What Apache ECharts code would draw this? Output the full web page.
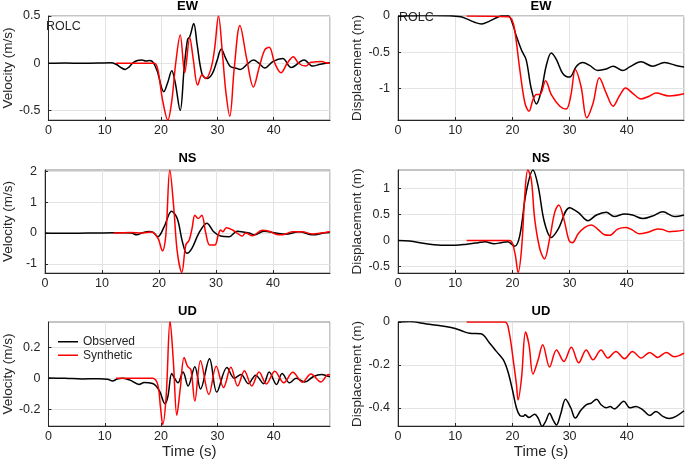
<!DOCTYPE html>
<html>
<head>
<meta charset="utf-8">
<script src="https://cdn.jsdelivr.net/npm/echarts@6/dist/echarts.min.js"></script>
<style>html,body{margin:0;padding:0;background:#fff}#c{width:685px;height:464px}</style>
</head>
<body>
<div id="c"></div>
<script>
// ---------- DATA ----------
const seriesNames = ['Observed', 'Synthetic'];
const panelTitles = ['EW', 'EW', 'NS', 'NS', 'UD', 'UD'];
const stationName = 'ROLC';

// EW velocity (m/s)
const ewVelObsT = [0,3,6,9,11,12,13,13.6,14.3,15,15.8,16.6,17.3,18,18.6,19.3,20.5,21.2,21.9,22.5,23.4,24.1,24.7,25.1,25.8,26.4,27.3,28.2,29.1,29.9,30.7,31.5,32.3,33.2,34.1,35.3,36.4,37.4,38.4,39.9,41.6,43.1,45.4,46.9,48.3,50];
const ewVelObsV = [0,0.003,0,0.002,0.005,-0.01,-0.05,-0.065,-0.04,0.005,0.03,0.035,0.025,0.03,0.01,-0.08,-0.30,-0.2,-0.08,-0.2,-0.50,-0.05,0.25,0.28,0.42,0.2,-0.12,-0.16,-0.11,0.02,0.15,0.05,-0.035,-0.05,-0.065,-0.01,0.035,0,-0.05,0.02,0.05,-0.045,0.035,-0.03,-0.01,0.005];
const ewVelSynT = [12,18.8,19.4,20.3,21.2,21.9,22.6,23.4,24.2,25.1,25.7,26.5,27.3,27.9,28.8,29.5,30.2,30.9,31.5,32.2,33.0,34.0,35.2,36.4,37.4,38.4,39.2,40.2,41.3,42.4,43.5,44.4,45.7,46.6,47.5,48.5,49.3,50];
const ewVelSynV = [0,0,-0.06,-0.4,-0.60,-0.4,0,0.30,-0.10,0.27,0.05,-0.23,-0.12,-0.16,-0.07,0.15,0.50,0.1,-0.3,-0.56,-0.05,0.40,0.05,-0.25,-0.05,0.14,0.17,0,-0.10,0,0.07,0,-0.03,0.01,0.015,0.02,0.005,0];
const ewVelTicks = [-0.5, 0, 0.5];

// EW displacement (m)
const ewDisObsT = [0,3,6,9,11,12,13.5,14.6,16,17.3,18.5,19.3,20,20.7,21.6,22.4,23.3,24.2,25.1,25.9,26.8,27.7,28.8,30,31.2,32.3,33.5,34.9,36.4,37.6,39.3,40.5,42.5,44.5,46.6,48.6,50];
const ewDisObsV = [0,0.005,0.008,0.005,-0.01,-0.04,-0.09,-0.11,-0.07,-0.02,0.01,0.005,-0.1,-0.28,-0.47,-0.6,-1.0,-1.21,-1.01,-0.69,-0.51,-0.60,-0.79,-0.84,-0.69,-0.64,-0.68,-0.75,-0.73,-0.69,-0.75,-0.70,-0.63,-0.69,-0.64,-0.68,-0.70];
const ewDisSynT = [12,19.3,19.9,20.4,21.3,22.2,22.9,23.6,24.2,24.8,25.8,26.8,28.3,29.4,30.2,31.0,32.0,33.0,34.1,35.2,36.4,37.6,38.7,39.8,41.0,42.5,44.0,45.1,47.4,50];
const ewDisSynV = [0,-0.01,-0.05,-0.19,-0.74,-1.2,-1.31,-1.15,-1.08,-1.08,-0.89,-1.08,-1.24,-1.28,-1.1,-0.74,-0.97,-1.40,-1.2,-0.85,-1.06,-1.24,-1.10,-0.99,-1.06,-1.14,-1.10,-1.06,-1.10,-1.07];
const ewDisTicks = [-1, -0.5, 0];

// NS velocity (m/s)
const nsVelObsT = [0,3,6,9,12,14,15.2,16.1,17,18.2,19,19.8,20.9,22.2,23.2,24.1,24.9,25.8,27,28.4,29.6,30.8,32.3,33.7,35.8,36.7,38.4,40.5,42.2,44.6,46.9,49.2,50];
const nsVelObsV = [0,-0.01,-0.005,0,0.01,0.01,0,-0.06,0,0.05,0.02,-0.12,0.2,0.71,0.47,-0.28,-0.66,-0.49,0,0.32,0.04,-0.1,-0.12,0.06,0,-0.06,0.06,0,-0.04,0.04,-0.06,0.01,0.02];
const nsVelSynT = [12,15,17,18.5,19.1,19.9,20.6,21.2,21.9,22.6,23.2,24.0,24.7,25.3,25.8,26.3,26.9,27.5,28.2,28.9,29.8,30.4,30.8,31.2,31.8,32.9,33.7,34.6,35.2,36.4,38.1,39.3,40.5,41.6,43.4,45.1,46.9,49.2,50];
const nsVelSynV = [0,0.02,0,0.03,0,-0.2,-0.58,-0.06,2.05,0.8,-0.6,-1.28,-0.39,-0.23,0.15,0.58,0.47,0.58,0,-0.39,-0.39,-0.06,0.1,0.04,0.17,0.1,0,-0.1,0,-0.09,0.09,0.06,-0.04,-0.06,0.04,0.04,-0.03,0.02,0.04];
const nsVelTicks = [-1, 0, 1, 2];

// NS displacement (m)
const nsDisObsT = [0,2,5,8,10,12,14,15.2,16.8,18,19.2,20.4,21.3,22.4,23.6,24.5,25.6,26.8,28,30,31.5,33.2,34.7,36.4,37.8,39.6,41,42.8,44.5,46.3,48.3,50];
const nsDisObsV = [0,-0.01,-0.06,-0.09,-0.09,-0.07,-0.04,-0.02,-0.06,-0.04,-0.02,-0.11,0.1,0.92,1.35,1.04,0.35,0.06,0.22,0.63,0.54,0.38,0.49,0.54,0.46,0.51,0.49,0.42,0.47,0.55,0.46,0.49];
const nsDisSynT = [12,19.5,20.4,21.0,21.6,22.2,22.7,23.3,23.9,24.8,25.6,26.5,27.4,28.1,29.0,29.9,30.5,31.5,32.6,33.8,34.9,36.1,37.0,38.4,39.9,41.0,42.2,43.7,45.4,46.3,47.4,48.6,50];
const nsDisSynV = [0,0,-0.22,-0.61,-0.16,0.92,1.35,1.17,0.41,-0.16,-0.35,0.03,0.54,0.68,0.41,0,-0.04,0.13,0.25,0.30,0.22,0.11,0.1,0.22,0.25,0.2,0.13,0.16,0.22,0.21,0.17,0.18,0.2];
const nsDisTicks = [-0.5, 0, 0.5, 1];

// UD velocity (m/s)
const udVelObsT = [0,3,6,9,10.5,11.4,12.2,13.2,14.5,16.1,17,17.8,18.8,19.7,20.7,21.2,21.9,22.4,23.0,23.9,24.8,26.0,27.0,28.6,29.9,31.7,33.0,34.2,35.5,36.8,38.2,39.2,40.5,41.5,42.8,44.0,45.5,47.0,48.5,49.5,50];
const udVelObsV = [0.002,0,-0.005,-0.003,-0.006,-0.018,-0.005,0,-0.012,-0.04,-0.028,-0.03,-0.04,-0.08,-0.165,-0.12,0.03,0,-0.03,0.04,-0.05,0.075,-0.07,0.127,-0.09,0.07,0,0.025,-0.035,0.02,-0.035,0.04,-0.04,0.03,-0.03,0,-0.025,0.01,0.025,0.015,0.01];
const udVelSynT = [12,18.5,19.4,19.9,20.3,20.9,21.6,22.2,22.8,23.4,24.1,24.7,25.3,26.0,27.0,28.5,29.8,31.1,32.4,33.6,34.8,36.1,37.4,38.7,40.2,41.8,43.4,45.1,46.6,48.4,49.7,50];
const udVelSynV = [0,0,-0.04,-0.19,-0.30,-0.12,0.37,0.1,-0.24,-0.07,0.135,0.077,0.056,-0.148,0.114,-0.105,0.077,-0.06,0.071,-0.05,0.049,-0.05,0.041,-0.037,0.045,-0.03,0.039,-0.026,0.028,-0.024,0.024,0.02];
const udVelTicks = [-0.2, 0, 0.2];

// UD displacement (m)
const udDisObsT = [0,2,5,8,10,11.5,12.5,14.5,16,17.2,18.4,19.2,20,20.7,21.3,21.9,22.2,22.9,23.9,24.5,25.2,25.8,26.5,27.1,27.7,28.4,29.3,30.2,31.0,32.0,32.9,33.8,34.7,35.5,36.4,37.1,37.8,39.5,40.5,41.6,42.8,44.0,45.1,46.3,47.4,48.6,50];
const udDisObsV = [0,0.002,-0.009,-0.02,-0.03,-0.045,-0.053,-0.055,-0.098,-0.137,-0.176,-0.23,-0.316,-0.40,-0.436,-0.44,-0.433,-0.445,-0.43,-0.448,-0.487,-0.464,-0.425,-0.456,-0.48,-0.433,-0.36,-0.40,-0.448,-0.41,-0.386,-0.378,-0.36,-0.386,-0.40,-0.394,-0.405,-0.37,-0.40,-0.394,-0.41,-0.436,-0.417,-0.44,-0.45,-0.44,-0.414];
const udDisSynT = [12,18.7,19.4,20.1,20.7,21.0,21.6,22.3,22.9,23.6,24.5,25.3,26.5,27.7,29.0,30.3,31.6,32.9,34.1,35.5,36.7,38.1,39.6,41.0,42.5,44.0,45.4,46.9,48.3,50];
const udDisSynV = [0,0,-0.044,-0.168,-0.29,-0.363,-0.26,-0.047,-0.106,-0.243,-0.176,-0.106,-0.21,-0.13,-0.184,-0.118,-0.19,-0.13,-0.176,-0.13,-0.168,-0.137,-0.171,-0.137,-0.168,-0.142,-0.165,-0.142,-0.162,-0.145];
const udDisTicks = [-0.4, -0.2, 0];

// ---------- CHART ----------
const zip = (t, v) => t.map((x, i) => [x, v[i]]);
const TXT = '#262626';
const FONT = '"Liberation Sans", Arial, Helvetica, sans-serif';

const panels = [
  { g: {left:45,  top:16,  width:285, height:104}, obs:[ewVelObsT,ewVelObsV], syn:[ewVelSynT,ewVelSynV], min:-0.6,  max:0.5,  ticks:ewVelTicks, yname:'Velocity (m/s)', gap:30 },
  { g: {left:398, top:16,  width:286, height:104}, obs:[ewDisObsT,ewDisObsV], syn:[ewDisSynT,ewDisSynV], min:-1.43, max:0,    ticks:ewDisTicks, yname:'Displacement (m)', gap:33 },
  { g: {left:45,  top:170, width:285, height:103}, obs:[nsVelObsT,nsVelObsV], syn:[nsVelSynT,nsVelSynV], min:-1.3,  max:2.05, ticks:nsVelTicks, yname:'Velocity (m/s)', gap:30 },
  { g: {left:398, top:170, width:286, height:103}, obs:[nsDisObsT,nsDisObsV], syn:[nsDisSynT,nsDisSynV], min:-0.62, max:1.35, ticks:nsDisTicks, yname:'Displacement (m)', gap:33 },
  { g: {left:45,  top:322, width:285, height:104}, obs:[udVelObsT,udVelObsV], syn:[udVelSynT,udVelSynV], min:-0.31, max:0.365,ticks:udVelTicks, yname:'Velocity (m/s)', gap:30 },
  { g: {left:398, top:322, width:286, height:104}, obs:[udDisObsT,udDisObsV], syn:[udDisSynT,udDisSynV], min:-0.485,max:0,    ticks:udDisTicks, yname:'Displacement (m)', gap:33 }
];

const grid = [], xAxis = [], yAxis = [], series = [], graphic = [];
const titleTops = [0, 0, 152, 152, 305, 305];

panels.forEach((p, i) => {
  grid.push(Object.assign({ show: true, borderColor: '#8a8a8a', borderWidth: 1, backgroundColor: '#fff' }, p.g));
  const bottom = i >= 4;
  xAxis.push({
    type: 'value', gridIndex: i, min: 0, max: 50, interval: 10,
    axisLine: { show: true, onZero: false, lineStyle: { color: TXT, width: 1 } },
    axisTick: { show: true, inside: true, length: 3, lineStyle: { color: TXT } },
    axisLabel: { show: true, showMaxLabel: false, margin: 4, color: TXT, fontSize: 12.5, fontFamily: FONT },
    splitLine: { show: true, lineStyle: { color: '#e3e3e3', width: 1 } },
    name: bottom ? 'Time (s)' : '', nameLocation: 'middle', nameGap: 18,
    nameTextStyle: { color: TXT, fontSize: 15, fontFamily: FONT }
  });
  yAxis.push({
    type: 'value', gridIndex: i, min: p.min, max: p.max,
    axisLine: { show: true, onZero: false, lineStyle: { color: TXT, width: 1 } },
    axisTick: { show: true, inside: true, length: 3, customValues: p.ticks, lineStyle: { color: TXT } },
    axisLabel: { show: true, customValues: p.ticks, margin: 8, color: TXT, fontSize: 12.5, fontFamily: FONT },
    splitLine: { show: true, lineStyle: { color: '#e3e3e3', width: 1 } },
    name: p.yname, nameLocation: 'middle', nameGap: p.gap,
    nameTextStyle: { color: TXT, fontSize: 13.5, fontFamily: FONT }
  });
  series.push({
    name: seriesNames[0], type: 'line', xAxisIndex: i, yAxisIndex: i,
    data: zip(p.obs[0], p.obs[1]), symbol: 'none', smooth: 0.35,
    lineStyle: { color: '#000', width: 1.5 }, itemStyle: { color: '#000' }, z: 3
  });
  series.push({
    name: seriesNames[1], type: 'line', xAxisIndex: i, yAxisIndex: i,
    data: zip(p.syn[0], p.syn[1]), symbol: 'none', smooth: 0.35,
    lineStyle: { color: '#ff0000', width: 1.5 }, itemStyle: { color: '#ff0000' }, z: 4
  });
  graphic.push({
    type: 'text', x: p.g.left + p.g.width / 2, y: titleTops[i], z: 10,
    style: { text: panelTitles[i], fill: '#000', font: 'bold 13px ' + FONT,
      align: 'center', verticalAlign: 'top', textAlign: 'center', textVerticalAlign: 'top' }
  });
});

graphic.push({ type: 'text', x: 46, y: 20, z: 1,
  style: { text: stationName, fill: TXT, font: '12.5px ' + FONT, align: 'left', verticalAlign: 'top', textAlign: 'left', textVerticalAlign: 'top' } });
graphic.push({ type: 'text', x: 399, y: 11, z: 1,
  style: { text: stationName, fill: TXT, font: '12.5px ' + FONT, align: 'left', verticalAlign: 'top', textAlign: 'left', textVerticalAlign: 'top' } });

const chart = echarts.init(document.getElementById('c'), null, { renderer: 'canvas' });
chart.setOption({
  animation: false,
  backgroundColor: '#fff',
  grid, xAxis, yAxis, series, graphic,
  legend: {
    data: seriesNames, orient: 'vertical', left: 58, top: 335, padding: 0,
    icon: 'rect', itemWidth: 20, itemHeight: 1.5, itemGap: 0,
    textStyle: { color: TXT, fontSize: 12, fontFamily: 'Liberation Sans', lineHeight: 13.5 }
  }
});
</script>
</body>
</html>
